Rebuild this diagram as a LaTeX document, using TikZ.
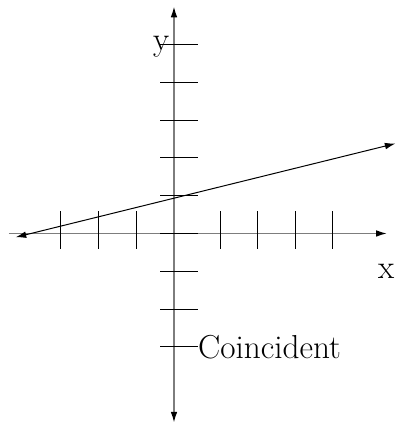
\documentclass[tikz,border=0pt]{standalone}
\usepackage{tikz}
\usetikzlibrary{arrows.meta,calc,positioning}
\definecolor{AxisGray}{RGB}{125,125,125}

\begin{document}
\begin{tikzpicture}[>={Latex[length=8pt,width=5pt,black]},font=\fontsize{25}{30}\selectfont,
  axis/.style={AxisGray,line width=1pt},
  tickmark/.style={black,line width=0.75pt}]
\useasboundingbox (-4.603,-5.04) rectangle (5.899,6.177);
% axes
\coordinate (xl) at (-4.37,0);
\coordinate (xr) at (5.63,0);
\coordinate (yb) at (0,-5);
\coordinate (yt) at (0,6);
\draw[axis,->] (xl)--(xr);
\draw[axis,<->] (yb)--(yt);
% ticks
\foreach \y in {-3,...,5}
  {\draw[tickmark] (-0.37,\y)--(0.63,\y);}
\foreach \x in {-3,-2,-1,1.22,2.22,3.22,4.2}
  {\draw[tickmark] (\x,-0.4)--(\x,0.6);}
% the line
\coordinate (la) at (-4.19,-0.1);
\coordinate (lb) at (5.86,2.38);
\draw[<->,line width=0.75pt] (la)--(lb);
% labels
\node[anchor=east,inner sep=0pt] (ylab) at (-0.12,4.95) {y};
\node (xlab) at (5.61,-1) {x};
\node[anchor=west,inner sep=0pt] (coin) at (0.63,-3) {Coincident};
\end{tikzpicture}
\end{document}
